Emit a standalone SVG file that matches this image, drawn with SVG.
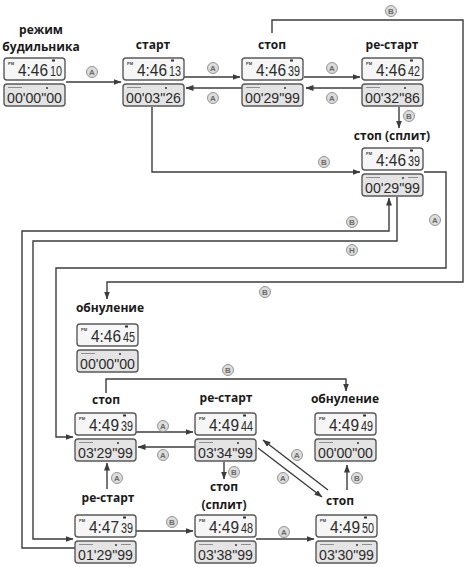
<svg xmlns="http://www.w3.org/2000/svg" width="464" height="567" viewBox="0 0 464 567">
<style>
.lbl{font-family:"Open Sans","Liberation Sans",sans-serif;font-weight:bold;font-size:12px;fill:#1a1a1a;text-anchor:middle}
.lt{fill:#f6f6f6;stroke:#5a5a5a;stroke-width:1.4}
.lb{fill:#e4e4e4;stroke:#5a5a5a;stroke-width:1.4}
.d{font-family:"Liberation Sans",sans-serif;font-size:16px;fill:#2b2b2b}
.s{font-size:15px}
.b{font-size:15px}
.pm{font-family:"Liberation Sans",sans-serif;font-size:4px;fill:#444;font-weight:bold}
.ind{fill:#333}
.ln{fill:none;stroke:#3c3c3c;stroke-width:1.4}
.cc{fill:#dcdcdc;stroke:#8a8a8a;stroke-width:0.9}
.ct{font-family:"Liberation Sans",sans-serif;font-size:8px;fill:#6a6a6a;text-anchor:middle;font-weight:bold}
.mk{stroke:#777;stroke-width:0.8;fill:none}
</style>
<defs>
<marker id="ah" markerUnits="userSpaceOnUse" markerWidth="8" markerHeight="6" refX="7.5" refY="3" orient="auto"><path d="M0,0 L8,3 L0,6 z" fill="#3c3c3c"/></marker>
</defs>

<g id="connectors">
<path class="ln" marker-end="url(#ah)" d="M66,82 H121"/>
<path class="ln" marker-end="url(#ah)" d="M184,77 H240"/>
<path class="ln" marker-end="url(#ah)" d="M242,88 H186"/>
<path class="ln" marker-end="url(#ah)" d="M304,77 H360"/>
<path class="ln" marker-end="url(#ah)" d="M362,88 H306"/>
<path class="ln" marker-end="url(#ah)" d="M272,33 V20 H463 V282 H107 V299"/>
<path class="ln" marker-end="url(#ah)" d="M399,107 V128"/>
<path class="ln" marker-end="url(#ah)" d="M152,107 V172 H360"/>
<path class="ln" marker-end="url(#ah)" d="M424,172 H446 V268 H56 V437 H73"/>
<path class="ln" marker-end="url(#ah)" d="M75,548 H22 V231 H389 V198"/>
<path class="ln" marker-end="url(#ah)" d="M397,197 V241 H33 V539 H73"/>
<path class="ln" marker-end="url(#ah)" d="M106,393 V379 H346 V391"/>
<path class="ln" marker-end="url(#ah)" d="M136,432 H193"/>
<path class="ln" marker-end="url(#ah)" d="M195,447 H138"/>
<path class="ln" marker-end="url(#ah)" d="M107,489 V463"/>
<path class="ln" marker-end="url(#ah)" d="M224,462 V479"/>
<path class="ln" marker-end="url(#ah)" d="M328,490 L263,440"/>
<path class="ln" marker-end="url(#ah)" d="M258,448 L322,497"/>
<path class="ln" marker-end="url(#ah)" d="M347,490 V465"/>
<path class="ln" marker-end="url(#ah)" d="M136,531 H193"/>
<path class="ln" marker-end="url(#ah)" d="M256,539 H314"/>
<g>
<circle class="cc" cx="92" cy="72" r="5.5"/><text class="ct" x="92" y="75">A</text>
<circle class="cc" cx="213" cy="68" r="5.5"/><text class="ct" x="213" y="71">A</text>
<circle class="cc" cx="213" cy="98" r="5.5"/><text class="ct" x="213" y="101">A</text>
<circle class="cc" cx="332" cy="68" r="5.5"/><text class="ct" x="332" y="71">A</text>
<circle class="cc" cx="332" cy="98" r="5.5"/><text class="ct" x="332" y="101">A</text>
<circle class="cc" cx="391" cy="11" r="5.5"/><text class="ct" x="391" y="14">B</text>
<circle class="cc" cx="265" cy="292" r="5.5"/><text class="ct" x="265" y="295">B</text>
<circle class="cc" cx="409" cy="116" r="5.5"/><text class="ct" x="409" y="119">B</text>
<circle class="cc" cx="324" cy="162" r="5.5"/><text class="ct" x="324" y="165">B</text>
<circle class="cc" cx="435" cy="220" r="5.5"/><text class="ct" x="435" y="223">A</text>
<circle class="cc" cx="352" cy="222" r="5.5"/><text class="ct" x="352" y="225">B</text>
<circle class="cc" cx="352" cy="250" r="5.5"/><text class="ct" x="352" y="253">H</text>
<circle class="cc" cx="228" cy="370" r="5.5"/><text class="ct" x="228" y="373">B</text>
<circle class="cc" cx="163" cy="426" r="5.5"/><text class="ct" x="163" y="429">A</text>
<circle class="cc" cx="163" cy="455" r="5.5"/><text class="ct" x="163" y="458">A</text>
<circle class="cc" cx="117" cy="478" r="5.5"/><text class="ct" x="117" y="481">A</text>
<circle class="cc" cx="234" cy="472" r="5.5"/><text class="ct" x="234" y="475">B</text>
<circle class="cc" cx="297" cy="455" r="5.5"/><text class="ct" x="297" y="458">A</text>
<circle class="cc" cx="283" cy="478" r="5.5"/><text class="ct" x="283" y="481">A</text>
<circle class="cc" cx="357" cy="478" r="5.5"/><text class="ct" x="357" y="481">B</text>
<circle class="cc" cx="172" cy="522" r="5.5"/><text class="ct" x="172" y="525">B</text>
<circle class="cc" cx="284" cy="532" r="5.5"/><text class="ct" x="284" y="535">A</text>
</g>
</g>

<g id="n1">
<text class="lbl" x="41" y="34">режим</text>
<text class="lbl" x="41" y="51">будильника</text>
<rect class="lt" x="4" y="58" width="61" height="22" rx="3"/>
<text class="pm" x="8" y="65">PM</text><rect class="ind" x="52" y="59.5" width="3" height="2"/>
<text class="d" x="18" y="76" textLength="30" lengthAdjust="spacingAndGlyphs">4:46</text>
<text class="d s" x="50" y="76" textLength="12" lengthAdjust="spacingAndGlyphs">10</text>
<rect class="lb" x="4" y="84" width="61" height="22" rx="3"/>
<path class="mk" d="M8,87.5 h14"/><circle class="ind" cx="47" cy="88" r="1"/>
<text class="d b" x="7" y="103" textLength="55" lengthAdjust="spacingAndGlyphs">00'00"00</text>
</g>

<g id="n2">
<text class="lbl" x="153" y="49">старт</text>
<rect class="lt" x="123" y="58" width="61" height="22" rx="3"/>
<text class="pm" x="127" y="65">PM</text><rect class="ind" x="171" y="59.5" width="3" height="2"/>
<text class="d" x="137" y="76" textLength="30" lengthAdjust="spacingAndGlyphs">4:46</text>
<text class="d s" x="169" y="76" textLength="12" lengthAdjust="spacingAndGlyphs">13</text>
<rect class="lb" x="123" y="84" width="61" height="22" rx="3"/>
<path class="mk" d="M127,87.5 h14"/><circle class="ind" cx="166" cy="88" r="1"/>
<text class="d b" x="126" y="103" textLength="55" lengthAdjust="spacingAndGlyphs">00'03"26</text>
</g>

<g id="n3">
<text class="lbl" x="272" y="49">стоп</text>
<rect class="lt" x="242" y="58" width="61" height="22" rx="3"/>
<text class="pm" x="246" y="65">PM</text><rect class="ind" x="290" y="59.5" width="3" height="2"/>
<text class="d" x="256" y="76" textLength="30" lengthAdjust="spacingAndGlyphs">4:46</text>
<text class="d s" x="288" y="76" textLength="12" lengthAdjust="spacingAndGlyphs">39</text>
<rect class="lb" x="242" y="84" width="61" height="22" rx="3"/>
<path class="mk" d="M246,87.5 h14"/><circle class="ind" cx="285" cy="88" r="1"/>
<text class="d b" x="245" y="103" textLength="55" lengthAdjust="spacingAndGlyphs">00'29"99</text>
</g>

<g id="n4">
<text class="lbl" x="392" y="49">ре-старт</text>
<rect class="lt" x="362" y="58" width="61" height="22" rx="3"/>
<text class="pm" x="366" y="65">PM</text><rect class="ind" x="410" y="59.5" width="3" height="2"/>
<text class="d" x="376" y="76" textLength="30" lengthAdjust="spacingAndGlyphs">4:46</text>
<text class="d s" x="408" y="76" textLength="12" lengthAdjust="spacingAndGlyphs">42</text>
<rect class="lb" x="362" y="84" width="61" height="22" rx="3"/>
<path class="mk" d="M366,87.5 h14"/><circle class="ind" cx="405" cy="88" r="1"/>
<text class="d b" x="365" y="103" textLength="55" lengthAdjust="spacingAndGlyphs">00'32"86</text>
</g>

<g id="n5">
<text class="lbl" x="392" y="140">стоп (сплит)</text>
<rect class="lt" x="362" y="148" width="61" height="22" rx="3"/>
<text class="pm" x="366" y="155">PM</text><rect class="ind" x="410" y="149.5" width="3" height="2"/>
<text class="d" x="376" y="166" textLength="30" lengthAdjust="spacingAndGlyphs">4:46</text>
<text class="d s" x="408" y="166" textLength="12" lengthAdjust="spacingAndGlyphs">39</text>
<rect class="lb" x="362" y="174" width="61" height="22" rx="3"/>
<path class="mk" d="M366,177.5 h14 M408,177.5 h10"/><circle class="ind" cx="403" cy="178" r="1"/>
<text class="d b" x="365" y="193" textLength="55" lengthAdjust="spacingAndGlyphs">00'29"99</text>
</g>

<g id="n6">
<text class="lbl" x="110" y="312">обнуление</text>
<rect class="lt" x="77" y="324" width="61" height="22" rx="3"/>
<text class="pm" x="81" y="331">PM</text><rect class="ind" x="125" y="325.5" width="3" height="2"/>
<text class="d" x="91" y="342" textLength="30" lengthAdjust="spacingAndGlyphs">4:46</text>
<text class="d s" x="123" y="342" textLength="12" lengthAdjust="spacingAndGlyphs">45</text>
<rect class="lb" x="77" y="350" width="61" height="22" rx="3"/>
<path class="mk" d="M81,353.5 h14"/><circle class="ind" cx="120" cy="354" r="1"/>
<text class="d b" x="80" y="369" textLength="55" lengthAdjust="spacingAndGlyphs">00'00"00</text>
</g>

<g id="n7">
<text class="lbl" x="106" y="404">стоп</text>
<rect class="lt" x="75" y="413" width="61" height="22" rx="3"/>
<text class="pm" x="79" y="420">PM</text><rect class="ind" x="123" y="414.5" width="3" height="2"/>
<text class="d" x="89" y="431" textLength="30" lengthAdjust="spacingAndGlyphs">4:49</text>
<text class="d s" x="121" y="431" textLength="12" lengthAdjust="spacingAndGlyphs">39</text>
<rect class="lb" x="75" y="439" width="61" height="22" rx="3"/>
<path class="mk" d="M79,442.5 h14"/><circle class="ind" cx="118" cy="443" r="1"/>
<text class="d b" x="78" y="458" textLength="55" lengthAdjust="spacingAndGlyphs">03'29"99</text>
</g>

<g id="n8">
<text class="lbl" x="226" y="402">ре-старт</text>
<rect class="lt" x="195" y="413" width="61" height="22" rx="3"/>
<text class="pm" x="199" y="420">PM</text><rect class="ind" x="243" y="414.5" width="3" height="2"/>
<text class="d" x="209" y="431" textLength="30" lengthAdjust="spacingAndGlyphs">4:49</text>
<text class="d s" x="241" y="431" textLength="12" lengthAdjust="spacingAndGlyphs">44</text>
<rect class="lb" x="195" y="439" width="61" height="22" rx="3"/>
<path class="mk" d="M199,442.5 h14"/><circle class="ind" cx="238" cy="443" r="1"/>
<text class="d b" x="198" y="458" textLength="55" lengthAdjust="spacingAndGlyphs">03'34"99</text>
</g>

<g id="n12">
<text class="lbl" x="345" y="403">обнуление</text>
<rect class="lt" x="315" y="413" width="61" height="22" rx="3"/>
<text class="pm" x="319" y="420">PM</text><rect class="ind" x="363" y="414.5" width="3" height="2"/>
<text class="d" x="329" y="431" textLength="30" lengthAdjust="spacingAndGlyphs">4:49</text>
<text class="d s" x="361" y="431" textLength="12" lengthAdjust="spacingAndGlyphs">49</text>
<rect class="lb" x="315" y="439" width="61" height="22" rx="3"/>
<path class="mk" d="M319,442.5 h14"/><circle class="ind" cx="358" cy="443" r="1"/>
<text class="d b" x="318" y="458" textLength="55" lengthAdjust="spacingAndGlyphs">00'00"00</text>
</g>

<g id="n9">
<text class="lbl" x="108" y="502">ре-старт</text>
<rect class="lt" x="75" y="515" width="61" height="22" rx="3"/>
<text class="pm" x="79" y="522">PM</text><rect class="ind" x="123" y="516.5" width="3" height="2"/>
<text class="d" x="89" y="533" textLength="30" lengthAdjust="spacingAndGlyphs">4:47</text>
<text class="d s" x="121" y="533" textLength="12" lengthAdjust="spacingAndGlyphs">39</text>
<rect class="lb" x="75" y="541" width="61" height="22" rx="3"/>
<path class="mk" d="M79,544.5 h14 M121,544.5 h10"/><circle class="ind" cx="116" cy="545" r="1"/>
<text class="d b" x="78" y="560" textLength="55" lengthAdjust="spacingAndGlyphs">01'29"99</text>
</g>

<g id="n10">
<text class="lbl" x="224" y="491">стоп</text>
<text class="lbl" x="224" y="509">(сплит)</text>
<rect class="lt" x="195" y="515" width="61" height="22" rx="3"/>
<text class="pm" x="199" y="522">PM</text><rect class="ind" x="243" y="516.5" width="3" height="2"/>
<text class="d" x="209" y="533" textLength="30" lengthAdjust="spacingAndGlyphs">4:49</text>
<text class="d s" x="241" y="533" textLength="12" lengthAdjust="spacingAndGlyphs">48</text>
<rect class="lb" x="195" y="541" width="61" height="22" rx="3"/>
<path class="mk" d="M199,544.5 h14 M241,544.5 h10"/><circle class="ind" cx="236" cy="545" r="1"/>
<text class="d b" x="198" y="560" textLength="55" lengthAdjust="spacingAndGlyphs">03'38"99</text>
</g>

<g id="n11">
<text class="lbl" x="340" y="505">стоп</text>
<rect class="lt" x="316" y="515" width="61" height="22" rx="3"/>
<text class="pm" x="320" y="522">PM</text><rect class="ind" x="364" y="516.5" width="3" height="2"/>
<text class="d" x="330" y="533" textLength="30" lengthAdjust="spacingAndGlyphs">4:49</text>
<text class="d s" x="362" y="533" textLength="12" lengthAdjust="spacingAndGlyphs">50</text>
<rect class="lb" x="316" y="541" width="61" height="22" rx="3"/>
<path class="mk" d="M320,544.5 h14 M362,544.5 h10"/><circle class="ind" cx="357" cy="545" r="1"/>
<text class="d b" x="319" y="560" textLength="55" lengthAdjust="spacingAndGlyphs">03'30"99</text>
</g>
</svg>
